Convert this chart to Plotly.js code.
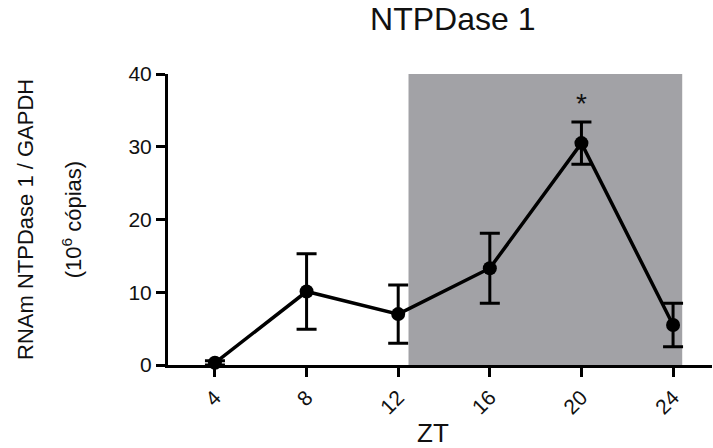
<!DOCTYPE html>
<html>
<head>
<meta charset="utf-8">
<script src="https://cdn.plot.ly/plotly-3.0.1.min.js"></script>
<style>
  html, body { margin: 0; padding: 0; background: #fff; }
  #chart { width: 713px; height: 448px; }
</style>
</head>
<body>
<div id="chart"></div>
<script>
// Circadian expression of NTPDase 1 mRNA (mean ± SEM) across Zeitgeber time
const zt = [4, 8, 12, 16, 20, 24];
const expression = [0.3, 10.1, 7.0, 13.3, 30.5, 5.5];
const sem = [0.3, 5.2, 4.0, 4.8, 2.9, 3.0];
const xTicks = [4, 8, 12, 16, 20, 24];
const xTickLabels = ['4', '8', '12', '16', '20', '24'];
const yTicks = [0, 10, 20, 30, 40];
// dark phase of the light/dark cycle
const darkPhase = [12.45, 24.4];
const significant = [20];

const FONT = 'Liberation Sans, Arial, Helvetica, sans-serif';
const INK = '#111111';

const trace = {
  x: zt,
  y: expression,
  type: 'scatter',
  mode: 'lines+markers',
  line: { color: '#000', width: 3.5 },
  marker: { color: '#000', size: 14, symbol: 'circle' },
  error_y: { type: 'data', array: sem, visible: true, color: '#000', thickness: 3, width: 10 },
  cliponaxis: false,
  hoverinfo: 'x+y'
};

const starAnnotations = significant.map(function (z) {
  const i = zt.indexOf(z);
  return {
    x: z, y: expression[i] + sem[i] + 2.6,
    xref: 'x', yref: 'y',
    text: '*', showarrow: false,
    font: { family: FONT, size: 28, color: INK },
    xanchor: 'center', yanchor: 'middle'
  };
});

const layout = {
  width: 713,
  height: 448,
  margin: { l: 168, r: 1, t: 74, b: 83 },
  paper_bgcolor: '#fff',
  plot_bgcolor: 'rgba(0,0,0,0)',
  showlegend: false,
  title: {
    text: 'NTPDase 1',
    font: { family: FONT, size: 32, color: INK },
    xref: 'container', x: 0.635, xanchor: 'center',
    yref: 'container', y: 0.958, yanchor: 'middle'
  },
  xaxis: {
    range: [1.95, 25.7],
    tickmode: 'array',
    tickvals: xTicks,
    ticktext: xTickLabels,
    tickangle: -45,
    ticklabelstandoff: 0,
    ticks: 'outside', ticklen: 9, tickwidth: 3, tickcolor: '#000',
    showline: true, linewidth: 3, linecolor: '#000',
    showgrid: false, zeroline: false,
    tickfont: { family: FONT, size: 21, color: INK },
    fixedrange: true
  },
  yaxis: {
    range: [0, 40],
    tickmode: 'array',
    tickvals: yTicks,
    ticks: 'outside', ticklen: 9, tickwidth: 3, tickcolor: '#000',
    showline: true, linewidth: 3, linecolor: '#000',
    showgrid: false, zeroline: false,
    tickfont: { family: FONT, size: 21, color: INK },
    fixedrange: true
  },
  shapes: [{
    type: 'rect', xref: 'x', yref: 'y',
    x0: darkPhase[0], x1: darkPhase[1], y0: 0, y1: 40,
    fillcolor: '#a2a2a6', line: { width: 0 }, layer: 'below'
  }],
  annotations: [
    {
      text: 'RNAm NTPDase 1 / GAPDH', textangle: -90,
      xref: 'paper', yref: 'paper', x: -0.262, y: 0.5,
      xanchor: 'center', yanchor: 'middle', showarrow: false,
      font: { family: FONT, size: 22, color: INK }
    },
    {
      text: '(10<sup>6</sup> cópias)', textangle: -90,
      xref: 'paper', yref: 'paper', x: -0.177, y: 0.5,
      xanchor: 'center', yanchor: 'middle', showarrow: false,
      font: { family: FONT, size: 22, color: INK }
    },
    {
      text: 'ZT',
      xref: 'paper', yref: 'paper', x: 0.487, y: -0.2337,
      xanchor: 'center', yanchor: 'middle', showarrow: false,
      font: { family: FONT, size: 26, color: INK }
    }
  ].concat(starAnnotations)
};

Plotly.newPlot('chart', [trace], layout, { displayModeBar: false, staticPlot: true });
</script>
</body>
</html>
